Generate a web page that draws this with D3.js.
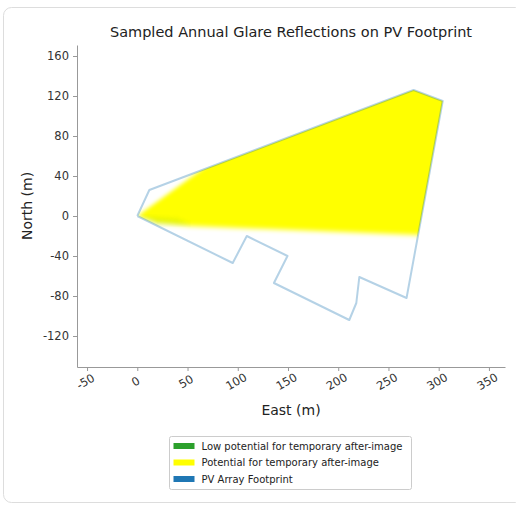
<!DOCTYPE html>
<html>
<head>
<meta charset="utf-8">
<script src="https://cdn.jsdelivr.net/npm/d3@7"></script>
<style>
  body { margin: 0; background: #fff; font-family: "DejaVu Sans", sans-serif; }
  .tick text { fill: #333; }
</style>
</head>
<body>
<div id="chart"></div>
<script>
// footprint outline of the PV array (metres)
var footprintEast  = [0, 12, 275, 304, 268, 221, 218, 211, 136, 149.5, 109, 95, 0]
var footprintNorth = [0, 26, 126, 115, -82, -61, -87, -104, -67, -40, -20, -47, 0]

// sampled glare area, "potential for temporary after-image" (yellow)
var glareEast  = [0, 80, 150, 280, 330, 330, 280, 129, 52, 20, 0]
var glareNorth = [0, 58, 100, 140, 130, -20, -19, -13, -10, -7, 0]

// small patch of low potential (green) near the origin
var lowEast  = [0, 40, 55, 20, 0]
var lowNorth = [0, -3, -9, -8, 0]

var xTicks = [-50, 0, 50, 100, 150, 200, 250, 300, 350]
var yTicks = [-120, -80, -40, 0, 40, 80, 120, 160]

var legendLabels = ["Low potential for temporary after-image", "Potential for temporary after-image", "PV Array Footprint"]
var legendColors = ["#2ca02c", "#ffff00", "#1f77b4"]

var width = 516, height = 505

var svg = d3.select("#chart").append("svg")
    .attr("width", width)
    .attr("height", height)

// card border
svg.append("rect")
   .attr("x", 3.5).attr("y", 7.5)
   .attr("width", 520).attr("height", 495)
   .attr("rx", 8)
   .style("fill", "#fff")
   .style("stroke", "#ddd")

var xScale = d3.scaleLinear().domain([-60, 366]).range([77, 505])
var yScale = d3.scaleLinear().domain([-151, 171]).range([367, 45])

var defs = svg.append("defs")
defs.append("filter").attr("id", "soft")
    .attr("x", "-20%").attr("y", "-20%").attr("width", "140%").attr("height", "140%")
    .append("feGaussianBlur").attr("stdDeviation", "0.6 2.6")

var footPts = footprintEast.map((e, i) => [xScale(e), yScale(footprintNorth[i])])
defs.append("clipPath").attr("id", "footClip")
    .append("polygon")
    .attr("points", footPts.map(p => p.join(",")).join(" "))

var line = d3.line()

// glare areas, blurred then clipped to the footprint
var glareG = svg.append("g").attr("clip-path", "url(#footClip)")
glareG.append("path")
      .attr("d", line(glareEast.map((e, i) => [xScale(e), yScale(glareNorth[i])])) + "Z")
      .style("fill", "#ffff00")
      .attr("filter", "url(#soft)")
glareG.append("path")
      .attr("d", line(lowEast.map((e, i) => [xScale(e), yScale(lowNorth[i])])) + "Z")
      .style("fill", "#2ca02c")
      .style("opacity", 0.12)
      .attr("filter", "url(#soft)")

// footprint outline
svg.append("path")
   .attr("d", line(footPts))
   .style("fill", "none")
   .style("stroke", "#1f77b4")
   .style("stroke-opacity", 0.33)
   .style("stroke-width", 2)
   .style("stroke-linejoin", "round")

// axes
var xAxis = d3.axisBottom(xScale).tickValues(xTicks).tickFormat(d => String(d)).tickSize(4).tickSizeOuter(0)
var yAxis = d3.axisLeft(yScale).tickValues(yTicks).tickFormat(d => String(d)).tickSize(4).tickSizeOuter(0)

var gx = svg.append("g")
   .attr("transform", "translate(0," + yScale(-151) + ")")
   .call(xAxis)
gx.selectAll("text")
  .attr("y", 0).attr("dy", 0)
  .attr("transform", "translate(0,18) rotate(-30)")
  .style("text-anchor", "middle")
  .style("font-size", "11.5px")
  .style("font-family", "DejaVu Sans")

var gy = svg.append("g")
   .attr("transform", "translate(" + xScale(-60) + ",0)")
   .call(yAxis)
gy.selectAll("text")
  .style("font-size", "11.5px")
  .style("font-family", "DejaVu Sans")
  .attr("x", -8)

svg.selectAll(".domain").style("stroke", "#999")
svg.selectAll(".tick line").style("stroke", "#999")

// titles
svg.append("text")
   .attr("x", 291).attr("y", 37)
   .style("text-anchor", "middle")
   .style("font-size", "14.5px")
   .style("fill", "#222")
   .text("Sampled Annual Glare Reflections on PV Footprint")

svg.append("text")
   .attr("x", 291).attr("y", 415)
   .style("text-anchor", "middle")
   .style("font-size", "14px")
   .style("fill", "#222")
   .text("East (m)")

svg.append("text")
   .attr("transform", "translate(32," + 206 + ") rotate(-90)")
   .style("text-anchor", "middle")
   .style("font-size", "14px")
   .style("fill", "#222")
   .text("North (m)")

// legend
var legend = svg.append("g").attr("transform", "translate(169.5,436.5)")
legend.append("rect")
      .attr("width", 242).attr("height", 53)
      .attr("rx", 2)
      .style("fill", "#fff")
      .style("stroke", "#ccc")
var items = legend.selectAll("g.item")
      .data(legendLabels)
      .enter().append("g")
      .attr("class", "item")
      .attr("transform", (d, i) => "translate(4," + (9.5 + i * 16.5) + ")")
items.append("rect")
     .attr("x", 0).attr("y", -3)
     .attr("width", 21).attr("height", 6)
     .style("fill", (d, i) => legendColors[i])
items.append("text")
     .attr("x", 28).attr("y", 3.5)
     .style("font-size", "10px")
     .style("fill", "#222")
     .text(d => d)
</script>
</body>
</html>
